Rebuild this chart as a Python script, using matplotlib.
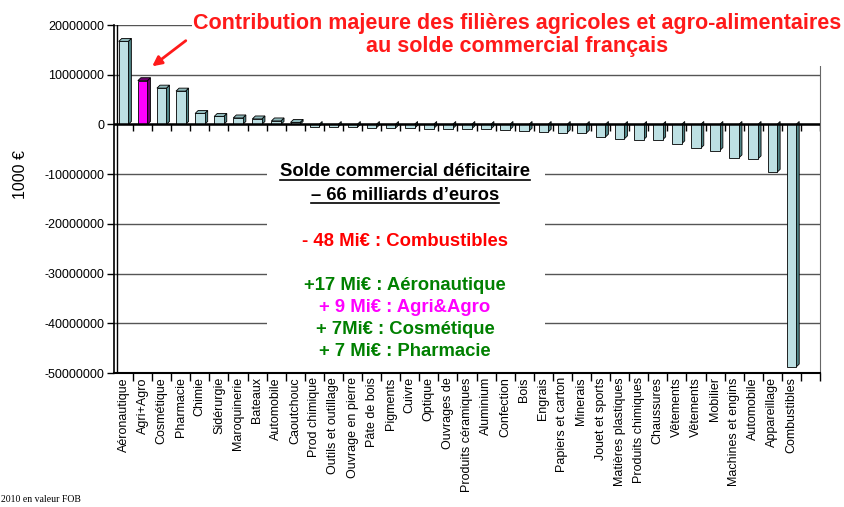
import matplotlib
matplotlib.use("Agg")
import matplotlib.pyplot as plt
from matplotlib.patches import Polygon, Rectangle
from matplotlib.lines import Line2D
from matplotlib.ticker import FuncFormatter

plt.rcParams["font.family"] = ["Liberation Sans", "DejaVu Sans"]

# solde commercial 2010, en 1000 euros
secteurs = ["Aéronautique", "Agri+Agro", "Cosmétique", "Pharmacie", "Chimie",
            "Sidérurgie", "Maroquinerie", "Bateaux", "Automobile", "Caoutchouc",
            "Prod chimique", "Outils et outillage", "Ouvrage en pierre",
            "Pâte de bois", "Pigments", "Cuivre", "Optique", "Ouvrages de",
            "Produits céramiques", "Aluminium", "Confection", "Bois", "Engrais",
            "Papiers et carton", "Minerais", "Jouet et sports",
            "Matières plastiques", "Produits chimiques", "Chaussures",
            "Vêtements", "Vêtements", "Mobilier", "Machines et engins",
            "Automobile", "Appareillage", "Combustibles"]
solde_mi = [16.7, 8.8, 7.3, 6.7, 2.2, 1.6, 1.3, 1.1, 0.7, 0.4,
            -0.45, -0.5, -0.6, -0.7, -0.75, -0.8, -0.85, -0.87, -0.9, -0.95,
            -1.07, -1.35, -1.55, -1.68, -1.76, -2.56, -2.89, -3.09, -3.1,
            -3.9, -4.79, -5.25, -6.73, -6.93, -9.63, -48.8]
solde = [v * 1e6 for v in solde_mi]
yticks = [20000000, 10000000, 0, -10000000, -20000000, -30000000, -40000000, -50000000]

face = "#bde0e3"
side = "#4f8486"
top = "#8fb8ba"
agri_face = "#ff00ff"
agri_side = "#6a006a"

fig = plt.figure(figsize=(8.44, 5.07), dpi=100)
ax = fig.add_axes([114 / 844, 1 - 373 / 507, 706 / 844, 348 / 507])
ax.set_xlim(-0.5, len(secteurs) + 0.5)
ax.set_ylim(-50000000, 20000000)

# grille
for t in yticks[:-1]:
    ax.axhline(t, color="#555555", lw=1, zorder=1)

# barres en pseudo-3D
w = 0.5
dx = 0.16
dy = 0.6e6
for i, v in enumerate(solde):
    fc = agri_face if secteurs[i] == "Agri+Agro" else face
    sc = agri_side if secteurs[i] == "Agri+Agro" else side
    r = i + w / 2
    ax.add_patch(Polygon([(r, 0), (r + dx, dy), (r + dx, v + dy), (r, v)],
                         closed=True, fc=sc, ec="black", lw=0.6, zorder=3))
    if v > 0:
        ax.add_patch(Polygon([(i - w / 2, v), (i - w / 2 + dx, v + dy),
                              (r + dx, v + dy), (r, v)],
                             closed=True, fc=top if fc == face else sc,
                             ec="black", lw=0.6, zorder=3))
    ax.bar(i, v, width=w, color=fc, edgecolor="black", lw=0.6, zorder=4)

# ligne du zero et petites graduations
ax.axhline(0, color="black", lw=1.8, zorder=5)
bornes = [i + 0.5 for i in range(len(secteurs) + 1)]
ax.vlines(bornes, -1.3e6, 0, color="black", lw=1, zorder=5)

# axes
ax.spines["top"].set_visible(False)
ax.spines["right"].set_color("#666666")
ax.spines["left"].set_linewidth(1.2)
ax.spines["bottom"].set_linewidth(1.5)
ax.axvline(-0.5 + 0.16, color="black", lw=1, zorder=5)

ax.set_yticks(yticks)
ax.yaxis.set_major_formatter(FuncFormatter(lambda v, p: str(int(v))))
ax.tick_params(axis="y", labelsize=9, length=5, width=1, pad=2)
ax.set_xticks(range(len(secteurs)))
ax.set_xticklabels(secteurs, rotation=90, fontsize=9, va="top")
ax.set_xticks(bornes, minor=True)
ax.tick_params(axis="x", which="major", length=0, pad=3)
ax.tick_params(axis="x", which="minor", length=6, width=1)
ax.set_ylabel("1000 €", fontsize=11.5)
ax.yaxis.set_label_coords(-0.122, 0.57)

# encadre central
ax.add_patch(Rectangle((0.217, 0.037), 0.393, 0.59, transform=ax.transAxes,
                       fc="white", ec="none", zorder=2))
cx = 405 / 844
lignes = [
    ("Solde commercial déficitaire", 172, "black"),
    ("– 66 milliards d’euros", 195, "black"),
    ("- 48 Mi€ : Combustibles", 241, "#ff0000"),
    ("+17 Mi€ : Aéronautique", 285, "#008000"),
    ("+ 9 Mi€ : Agri&Agro", 307, "#ff00ff"),
    ("+ 7Mi€ : Cosmétique", 330, "#008000"),
    ("+ 7 Mi€ : Pharmacie", 352, "#008000"),
]
textes = []
for txt, y, c in lignes:
    textes.append(fig.text(cx, 1 - y / 507, txt, ha="center", va="center",
                           fontsize=13.3, fontweight="bold", color=c))

# titre
fig.text(517 / 844, 1 - 35 / 507,
         "Contribution majeure des filières agricoles et agro-alimentaires\nau solde commercial français",
         ha="center", va="center", fontsize=15.5, fontweight="bold",
         color="#ff1a1a", linespacing=1.15)
fig.add_artist(Rectangle((192 / 844, 1 - 66 / 507), 652 / 844, 66 / 507,
                         transform=fig.transFigure, fc="white", ec="none",
                         zorder=0.5))
ax.annotate("", xy=(150 / 844, 1 - 68 / 507), xytext=(188 / 844, 1 - 39 / 507),
            xycoords="figure fraction", textcoords="figure fraction",
            arrowprops=dict(arrowstyle="-|>", color="#ff1a1a", lw=2,
                            mutation_scale=14), zorder=10)

fig.text(1 / 844, 1 - 500 / 507, "2010 en valeur FOB", fontsize=7,
         family="Liberation Serif", va="center")

# soulignement des deux premieres lignes
fig.canvas.draw()
r = fig.canvas.get_renderer()
for t in textes[:2]:
    bb = t.get_window_extent(r)
    fig.add_artist(Line2D([bb.x0 / 844, bb.x1 / 844],
                          [(bb.y0 + 1) / 507, (bb.y0 + 1) / 507],
                          transform=fig.transFigure, color="black", lw=1.2))

fig.savefig("out.png", dpi=100)
